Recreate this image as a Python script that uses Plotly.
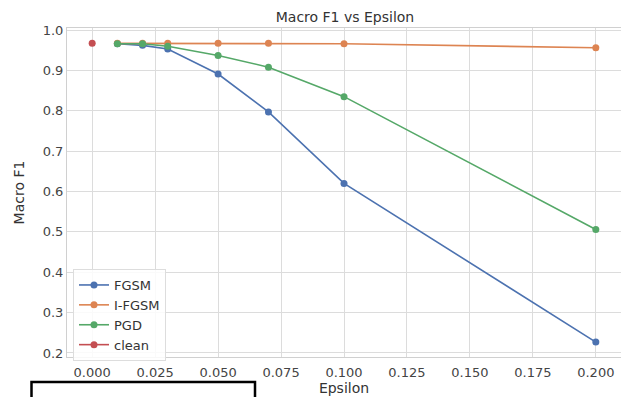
import plotly.graph_objects as go

eps_attack = [0.01, 0.02, 0.03, 0.05, 0.07, 0.1, 0.2]
fgsm = [0.966, 0.962, 0.953, 0.891, 0.797, 0.620, 0.227]
ifgsm = [0.967, 0.967, 0.967, 0.967, 0.967, 0.966, 0.956]
pgd = [0.966, 0.966, 0.960, 0.937, 0.908, 0.835, 0.506]
eps_clean = [0.0]
clean = [0.967]

names = ["FGSM", "I-FGSM", "PGD", "clean"]
colors = ["#4c72b0", "#dd8452", "#55a868", "#c44e52"]
xs = [eps_attack, eps_attack, eps_attack, eps_clean]
ys = [fgsm, ifgsm, pgd, clean]

x_ticks = [0.0, 0.025, 0.05, 0.075, 0.1, 0.125, 0.15, 0.175, 0.2]
y_ticks = [0.2, 0.3, 0.4, 0.5, 0.6, 0.7, 0.8, 0.9, 1.0]

fig = go.Figure()
for n, c, x, y in zip(names, colors, xs, ys):
    fig.add_trace(go.Scatter(x=x, y=y, name=n, mode="lines+markers",
                             line=dict(color=c, width=1.6),
                             marker=dict(color=c, size=7)))

W, H = 621, 397
L, R, T, B = 67, 0, 28, 40
pw, ph = W - L - R, H - T - B

def px_x(p):
    return (p - L) / pw

def px_y(p):
    return (H - B - p) / ph

fig.update_layout(
    width=W, height=H,
    margin=dict(l=L, r=R, t=T, b=B),
    paper_bgcolor="white", plot_bgcolor="white",
    font=dict(family="DejaVu Sans", color="#333333", size=12),
    title=dict(text="Macro F1 vs Epsilon", x=(345) / W, xanchor="center",
               y=1 - 17 / H, yanchor="middle", font=dict(size=14, color="#333333")),
    xaxis=dict(range=[-0.01, 0.21], tickvals=x_ticks, tickformat=".3f",
               showgrid=True, gridcolor="#dcdcdc", gridwidth=1,
               zeroline=False, showline=True, linecolor="#d0d0d0", linewidth=1, mirror=True,
               ticks="", tickfont=dict(size=13, color="#444444"), ticklabelstandoff=3,
               title=dict(text="Epsilon", font=dict(size=14, color="#333333"), standoff=4)),
    yaxis=dict(range=[0.19, 1.005], tickvals=y_ticks, tickformat=".1f",
               showgrid=True, gridcolor="#dcdcdc", gridwidth=1,
               zeroline=False, showline=True, linecolor="#d0d0d0", linewidth=1, mirror=True,
               ticks="", tickfont=dict(size=13, color="#444444"),
               title=dict(text="Macro F1", font=dict(size=14, color="#333333"), standoff=14)),
    legend=dict(x=px_x(73), y=px_y(269), xanchor="left", yanchor="top",
                bgcolor="rgba(255,255,255,0.85)", bordercolor="#dddddd", borderwidth=1,
                font=dict(size=13, color="#333333"), itemwidth=30,
                tracegroupgap=0),
    showlegend=True,
)

fig.add_shape(type="rect", xref="paper", yref="paper",
              x0=px_x(31.5), x1=px_x(255), y0=px_y(382), y1=px_y(402),
              line=dict(color="black", width=2.5), fillcolor="rgba(0,0,0,0)")

fig.write_html("out.html")
